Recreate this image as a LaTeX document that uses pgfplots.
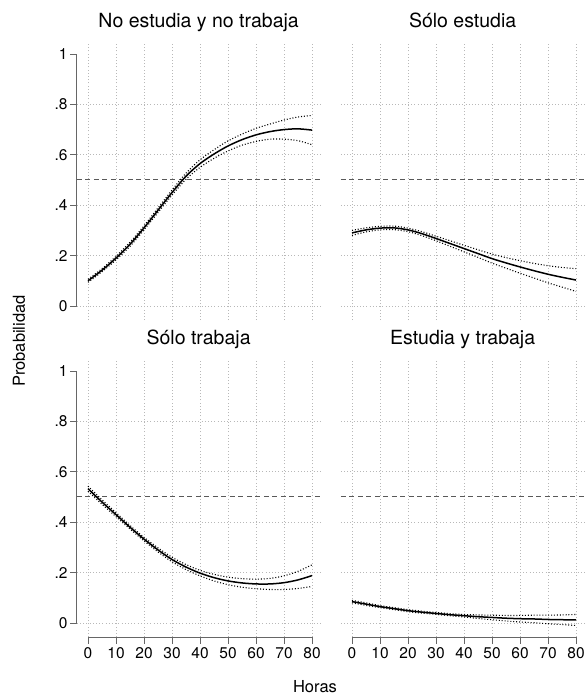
\documentclass[border=0pt]{standalone}
\usepackage{fontspec}
\setmainfont{TeX Gyre Heros}
\usepackage{pgfplots}
\usepackage{pgfplotstable}
\pgfplotsset{compat=1.18}

% Predicted probability by weekly hours, with confidence bounds
\pgfplotstableread{
h p lo hi
0 .100 .094 .106
5 .142 .136 .148
10 .190 .183 .197
15 .245 .237 .253
20 .310 .302 .318
25 .380 .371 .389
30 .450 .440 .460
35 .515 .503 .527
40 .565 .550 .580
45 .603 .586 .620
50 .635 .615 .655
55 .660 .638 .682
60 .679 .653 .705
65 .692 .662 .722
70 .700 .662 .738
75 .703 .656 .750
80 .698 .640 .756
}\ninguno
\pgfplotstableread{
h p lo hi
0 .290 .280 .300
5 .302 .294 .310
10 .309 .302 .316
15 .310 .303 .317
20 .302 .295 .309
25 .287 .279 .295
30 .268 .259 .277
35 .248 .237 .259
40 .228 .215 .241
45 .208 .193 .223
50 .188 .170 .206
55 .171 .150 .192
60 .155 .130 .180
65 .140 .111 .169
70 .126 .092 .160
75 .114 .075 .153
80 .103 .058 .148
}\estudia
\pgfplotstableread{
h p lo hi
0 .533 .523 .543
5 .480 .471 .489
10 .430 .422 .438
15 .380 .373 .387
20 .333 .326 .340
25 .290 .282 .298
30 .252 .243 .261
35 .222 .212 .232
40 .198 .187 .209
45 .180 .167 .193
50 .167 .152 .182
55 .159 .142 .176
60 .155 .136 .174
65 .155 .133 .177
70 .160 .133 .187
75 .171 .137 .205
80 .188 .145 .231
}\trabaja
\pgfplotstableread{
h p lo hi
0 .085 .080 .090
5 .075 .070 .080
10 .065 .061 .069
15 .057 .053 .061
20 .049 .045 .053
25 .043 .039 .047
30 .038 .034 .042
35 .033 .029 .037
40 .029 .024 .034
45 .025 .018 .032
50 .022 .013 .031
55 .019 .008 .030
60 .017 .004 .030
65 .016 .001 .031
70 .014 -.003 .031
75 .013 -.006 .032
80 .012 -.010 .034
}\ambos

\tikzset{
  axisline/.style={black!60, line width=0.9bp},
  fit/.style={black, line width=1.5bp, smooth},
  ci/.style={black, line width=1.1bp, dash pattern=on 1bp off 1.9bp, smooth},
  refline/.style={black!65, line width=1bp, dash pattern=on 5bp off 3.5bp},
}

\pgfplotsset{
  panel/.style={
    x=2.8bp, y=252bp,
    xmin=-4, xmax=83, ymin=-0.056, ymax=1.04,
    clip=false,
    axis x line*=bottom, axis y line*=left,
    x axis line style={draw=none}, y axis line style={draw=none},
    xtick={0,10,...,80},
    xticklabels={0,10,20,30,40,50,60,70,80},
    ytick={0,0.2,0.4,0.6,0.8,1},
    yticklabels={0,.2,.4,.6,.8,1},
    xmajorgrids,
    extra y ticks={0,0.2,0.4,0.6,0.8},
    extra y tick labels={},
    extra y tick style={grid=major, major tick length=0pt},
    grid style={black!28, line width=0.7bp, dash pattern=on 1bp off 2.2bp},
    tick align=outside,
    major tick length=6.5bp,
    tick style={black!60, line width=0.9bp},
    tick label style={font=\fontsize{15.5bp}{17bp}\selectfont},
    yticklabel style={inner sep=2.5bp},
    xticklabel style={inner sep=3.5bp},
    title style={at={(0.5,1)}, anchor=base, yshift=10.5bp,
      font=\fontsize{19.5bp}{23bp}\selectfont},
    anchor=origin,
  },
  notopaxis/.style={xticklabels={}, major x tick style={draw=none}},
  norightaxis/.style={yticklabels={}, major y tick style={draw=none}},
}

\begin{document}
\begin{tikzpicture}
\useasboundingbox (0,0) rectangle (585bp,695bp);

% Top left
\begin{axis}[panel, notopaxis, at={(88bp,389bp)}, title={No estudia y no trabaja}]
  \draw[axisline] (axis cs:-4,0) -- (axis cs:-4,1);
  \addplot[refline] coordinates {(-4,0.5) (83,0.5)};
  \addplot[ci] table[x=h, y=lo] {\ninguno};
  \addplot[ci] table[x=h, y=hi] {\ninguno};
  \addplot[fit] table[x=h, y=p] {\ninguno};
\end{axis}

% Top right
\begin{axis}[panel, notopaxis, norightaxis, at={(352bp,389bp)}, title={Sólo estudia}]
  \addplot[refline] coordinates {(-4,0.5) (83,0.5)};
  \addplot[ci] table[x=h, y=lo] {\estudia};
  \addplot[ci] table[x=h, y=hi] {\estudia};
  \addplot[fit] table[x=h, y=p] {\estudia};
\end{axis}

% Bottom left
\begin{axis}[panel, at={(88bp,72bp)}, title={Sólo trabaja}]
  \draw[axisline] (axis cs:-4,0) -- (axis cs:-4,1);
  \draw[axisline] (axis cs:0,-0.056) -- (axis cs:80,-0.056);
  \addplot[refline] coordinates {(-4,0.5) (83,0.5)};
  \addplot[ci] table[x=h, y=lo] {\trabaja};
  \addplot[ci] table[x=h, y=hi] {\trabaja};
  \addplot[fit] table[x=h, y=p] {\trabaja};
\end{axis}

% Bottom right
\begin{axis}[panel, norightaxis, at={(352bp,72bp)}, title={Estudia y trabaja}]
  \draw[axisline] (axis cs:0,-0.056) -- (axis cs:80,-0.056);
  \addplot[refline] coordinates {(-4,0.5) (83,0.5)};
  \addplot[ci] table[x=h, y=lo] {\ambos};
  \addplot[ci] table[x=h, y=hi] {\ambos};
  \addplot[fit] table[x=h, y=p] {\ambos};
\end{axis}

\node[rotate=90, font=\fontsize{16.5bp}{19bp}\selectfont] at (19bp,354bp) {Probabilidad};
\node[anchor=base, font=\fontsize{16.5bp}{19bp}\selectfont] at (315bp,3bp) {Horas};
\end{tikzpicture}
\end{document}
